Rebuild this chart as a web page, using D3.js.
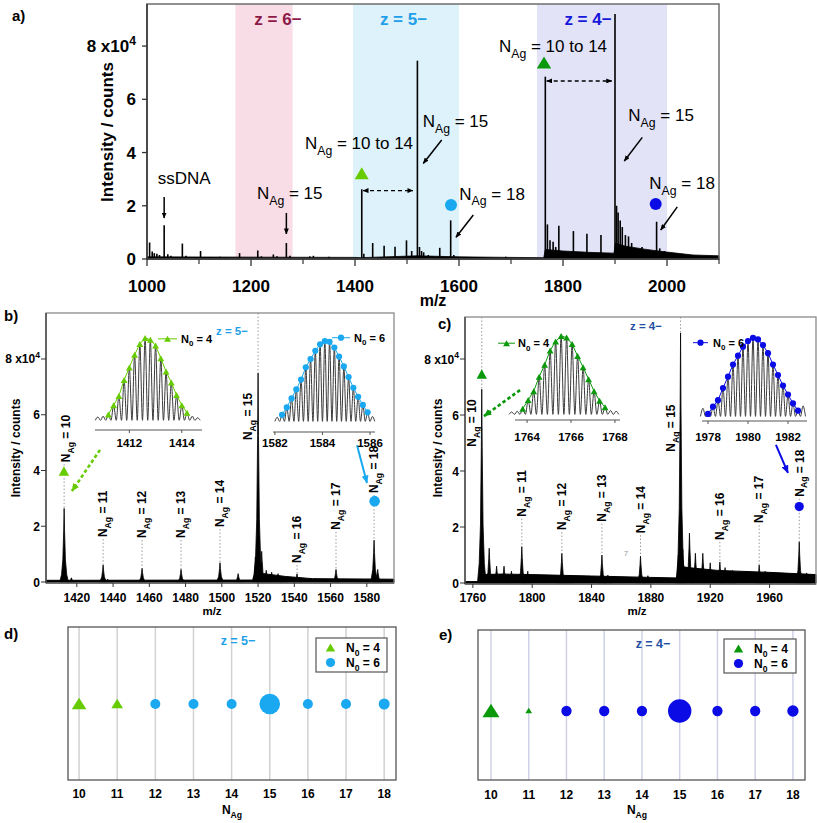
<!DOCTYPE html>
<html><head><meta charset="utf-8">
<script src="https://cdn.jsdelivr.net/npm/d3@7"></script>
<style>body{margin:0;background:#fff}svg{display:block}</style>
</head><body>
<svg id="fig" width="817" height="823"></svg>
<script>
// ================= DATA =================
// intensities are in units of 1e4 counts
const zLabels = ["z = 6−", "z = 5−", "z = 4−"];
const zRanges = [[1170, 1280], [1396, 1600], [1750, 2000]];
const xTicksA = [1000, 1200, 1400, 1600, 1800, 2000];
const xMinorA = [1100, 1300, 1500, 1700, 1900, 2100];
const yTicks = [0, 2, 4, 6, 8];
const peaksA = [
  [1005,0.62],[1010,0.28],[1014,0.22],[1019,0.2],[1024,0.15],[1033,1.27],[1040,0.18],[1046,0.12],
  [1068,0.58],[1075,0.12],[1103,0.3],[1140,0.08],[1178,0.22],[1213,0.32],[1220,0.1],[1243,0.17],
  [1250,0.1],[1268,0.6],[1275,0.12],[1313,0.1],[1320,0.12],[1350,0.08],[1413,2.62],[1417,0.2],
  [1434,0.6],[1456,0.5],[1477,0.46],[1499,0.7],[1509,0.3],[1520,7.45],[1524,0.45],[1528,0.3],
  [1532,0.25],[1541,0.15],[1563,0.42],[1584,1.45],[1590,0.15],[1690,0.08],[1766,6.85],[1770,1.3],
  [1775,0.7],[1781,0.65],[1786,0.45],[1792,1.25],[1820,1.05],[1846,0.95],[1873,0.9],[1900,9.2],
  [1903,2.0],[1906,1.75],[1910,1.45],[1914,1.2],[1920,0.9],[1926,0.85],[1932,0.6],[1952,0.45],
  [1980,1.4],[1986,0.4],[1995,0.3]
];
const baselineA = [[1000,0.08],[1400,0.06],[1412,0.05],[1520,0.12],[1600,0.08],[1700,0.06],[1763,0.05],
  [1766,0.36],[1800,0.3],[1850,0.25],[1898,0.22],[1901,0.6],[1920,0.48],[1960,0.36],[2000,0.26],[2050,0.15],[2100,0.12]];

const nAg = [10, 11, 12, 13, 14, 15, 16, 17, 18];

// panel b (z = 5-)
const mzB = [1413, 1434.5, 1456, 1477.5, 1499, 1520, 1541.5, 1563, 1584];
const hB = [2.64, 0.61, 0.49, 0.45, 0.69, 7.5, 0.29, 0.45, 1.5];
const minorB = [[1417,0.15],[1437,0.1],[1509,0.3],[1518.5,0.9],[1522,1.1],[1524.5,0.42],[1527.5,0.35],
  [1531,0.3],[1534,0.2],[1586,0.45]];
const baselineB = [[1403,0.06],[1517,0.07],[1523,0.3],[1535,0.2],[1550,0.12],[1595,0.1]];
const xTicksB = [1420, 1440, 1460, 1480, 1500, 1520, 1540, 1560, 1580];
const labelLevelB = [4.3, 1.61, 1.58, 1.58, 1.97, 5.09, 0.68, 1.87, 3.19];

// panel c (z = 4-)
const mzC = [1766, 1793, 1820, 1847, 1873, 1900, 1926.5, 1953, 1980];
const hC = [6.92, 1.3, 1.06, 1.0, 0.96, 8.93, 0.75, 0.64, 1.47];
const minorC = [[1771,1.24],[1776,0.6],[1781,0.6],[1786,0.42],[1797,0.42],[1825,0.28],[1851,0.28],[1878,0.26],
  [1898.5,1.0],[1901.5,1.2],[1906,1.78],[1910,1.06],[1915,1.06],[1920,0.72],[1930,0.55],[1935,0.45],
  [1957,0.42],[1985,0.36]];
const baselineC = [[1754.7,0.05],[1764,0.05],[1765.5,0.3],[1780,0.32],[1800,0.3],[1840,0.25],[1880,0.2],
  [1898,0.18],[1900,0.6],[1905,0.55],[1925,0.45],[1960,0.38],[1991.3,0.3]];
const xTicksC = [1760, 1800, 1840, 1880, 1920, 1960];
const labelLevelC = [4.87, 2.37, 1.89, 2.19, 1.78, 4.69, 1.54, 2.14, 3.08];

// isotope envelopes (relative intensity)
const isoB4 = [[1411.2,0.09],[1411.4,0.20],[1411.6,0.31],[1411.8,0.50],[1412.0,0.65],[1412.2,0.80],[1412.4,0.93],
  [1412.6,1.0],[1412.8,0.98],[1413.0,0.91],[1413.2,0.76],[1413.4,0.60],[1413.6,0.47],[1413.8,0.32],[1414.0,0.20],[1414.2,0.11]];
const tailB4 = [[1410.8,0.06],[1411.0,0.07],[1414.4,0.07],[1414.6,0.05]];
const isoB6 = [[1582.3,0.10],[1582.5,0.19],[1582.7,0.30],[1582.9,0.41],[1583.1,0.53],[1583.3,0.68],[1583.5,0.78],
  [1583.7,0.88],[1583.9,0.96],[1584.1,1.0],[1584.3,0.99],[1584.5,0.92],[1584.7,0.81],[1584.9,0.69],[1585.1,0.56],
  [1585.3,0.43],[1585.5,0.32],[1585.7,0.22],[1585.9,0.13]];
const tailB6 = [[1582.1,0.07],[1586.1,0.08]];
const isoC4 = [[1763.8,0.09],[1764.05,0.20],[1764.3,0.31],[1764.55,0.49],[1764.8,0.64],[1765.05,0.82],[1765.3,0.93],
  [1765.55,1.0],[1765.8,0.98],[1766.05,0.90],[1766.3,0.75],[1766.55,0.61],[1766.8,0.46],[1767.05,0.31],[1767.3,0.19],[1767.55,0.11]];
const tailC4 = [[1763.3,0.05],[1763.55,0.06],[1767.8,0.07],[1768.05,0.06]];
const isoC6 = [[1978.0,0.05],[1978.25,0.14],[1978.5,0.22],[1978.75,0.37],[1979.0,0.51],[1979.25,0.66],[1979.5,0.77],
  [1979.75,0.88],[1980.0,0.95],[1980.25,0.99],[1980.5,0.97],[1980.75,0.90],[1981.0,0.80],[1981.25,0.66],[1981.5,0.53],
  [1981.75,0.40],[1982.0,0.29],[1982.25,0.18],[1982.5,0.09]];
const tailC6 = [[1977.75,0.12],[1982.75,0.15]];

// panels d / e : relative abundance (marker size) and species
const speciesD = ["N4","N4","N6","N6","N6","N6","N6","N6","N6"];
const sizeD = [2.13, 1.35, 1.0, 1.0, 1.0, 4.24, 1.0, 1.0, 1.21];
const speciesE = ["N4","N4","N6","N6","N6","N6","N6","N6","N6"];
const sizeE = [2.89, 0.46, 1.06, 1.06, 1.06, 5.48, 1.06, 1.06, 1.28];

// ================= STYLE =================
const FONT = "'Liberation Sans', Arial, Helvetica, sans-serif";
const C = {
  lgreen: "#66cc00", dgreen: "#0a990a", lblue: "#1aa8f0", blue: "#0b0be6",
  z6: "#8c1a46", z5: "#1e9fe8", z4a: "#1818d8", z4c: "#2350a2",
  shade: ["#f8dde6", "#ddf2fb", "#e3e3f8"], frame: "#6e6e6e", axis: "#333"
};

const svg = d3.select("#fig");
const defs = svg.append("defs");
function arrowMarker(id, color, w, h) {
  defs.append("marker").attr("id", id).attr("viewBox", `0 0 ${w} ${h}`)
    .attr("refX", w - 0.5).attr("refY", h / 2).attr("markerWidth", w).attr("markerHeight", h)
    .attr("markerUnits", "userSpaceOnUse").attr("orient", "auto-start-reverse")
    .append("path").attr("d", `M0,0L${w},${h / 2}L0,${h}Z`).attr("fill", color);
}
arrowMarker("ahKs", "#000", 6, 5);
arrowMarker("ahLG", C.lgreen, 8, 7);
arrowMarker("ahDG", C.dgreen, 8, 7);
arrowMarker("ahLB", C.lblue, 8, 7);
arrowMarker("ahB", C.blue, 8, 7);

function rich(g, parts, o) {
  const s = o.size;
  const t = g.append("text").attr("font-family", FONT).attr("font-size", s)
    .attr("font-weight", o.weight || "normal").attr("fill", o.fill || "#000")
    .attr("text-anchor", o.anchor || "start");
  if (o.rotate) t.attr("transform", `translate(${o.x},${o.y}) rotate(${o.rotate})`);
  else t.attr("x", o.x).attr("y", o.y);
  let shift = 0;
  parts.forEach(p => {
    const sp = t.append("tspan").text(p.t);
    const target = p.sub ? s * 0.32 : p.sup ? -s * 0.42 : 0;
    if (target !== shift) { sp.attr("dy", target - shift); shift = target; }
    if (p.sub || p.sup) sp.attr("font-size", s * 0.72);
  });
  return t;
}
const nagParts = v => [{t: "N"}, {t: "Ag", sub: true}, {t: " = " + v}];
const n0Parts = v => [{t: "N"}, {t: "0", sub: true}, {t: " = " + v}];
const triPath = (cx, cy, hw, h) => `M${cx},${cy - h / 2}L${cx + hw},${cy + h / 2}L${cx - hw},${cy + h / 2}Z`;
function arrow(g, x1, y1, x2, y2, color, w, marker, dash, both) {
  const l = g.append("line").attr("x1", x1).attr("y1", y1).attr("x2", x2).attr("y2", y2)
    .attr("stroke", color).attr("stroke-width", w).attr("marker-end", `url(#${marker})`);
  if (dash) l.attr("stroke-dasharray", dash);
  if (both) l.attr("marker-start", `url(#${marker})`);
  return l;
}
function plain(g, txt, o) {
  return g.append("text").attr("x", o.x).attr("y", o.y).attr("font-family", FONT)
    .attr("font-size", o.size).attr("font-weight", o.weight || "normal").attr("fill", o.fill || "#000")
    .attr("text-anchor", o.anchor || "start").text(txt);
}

// ================= PANEL A =================
(function () {
  const g = svg.append("g");
  const x = d3.scaleLinear([1000, 2100], [147, 719]);
  const y = d3.scaleLinear([0, 9.58], [259, 4]);
  zRanges.forEach((r, i) => g.append("rect").attr("x", x(r[0])).attr("y", y(9.58))
    .attr("width", x(r[1]) - x(r[0])).attr("height", y(0) - y(9.58)).attr("fill", C.shade[i]));
  g.append("path").datum(baselineA).attr("fill", "#000").attr("stroke", "#000").attr("stroke-width", 0.8)
    .attr("d", d3.area().x(d => x(d[0])).y0(y(0)).y1(d => y(d[1])));
  g.selectAll(".pk").data(peaksA).join("line").attr("x1", d => x(d[0])).attr("x2", d => x(d[0]))
    .attr("y1", y(0)).attr("y2", d => y(d[1])).attr("stroke", "#000").attr("stroke-width", 1.6);
  g.append("rect").attr("x", 147).attr("y", 4).attr("width", 572).attr("height", 255)
    .attr("fill", "none").attr("stroke", C.frame).attr("stroke-width", 1.5);
  g.append("line").attr("x1", 147).attr("x2", 719).attr("y1", 259).attr("y2", 259).attr("stroke", C.axis).attr("stroke-width", 1.5);
  g.append("line").attr("x1", 147).attr("x2", 147).attr("y1", 4).attr("y2", 259).attr("stroke", C.axis).attr("stroke-width", 1.5);
  xTicksA.forEach(v => {
    g.append("line").attr("x1", x(v)).attr("x2", x(v)).attr("y1", 259).attr("y2", 266).attr("stroke", C.axis).attr("stroke-width", 1.3);
    plain(g, v, {x: x(v), y: 292, size: 17, weight: "bold", anchor: "middle"});
  });
  xMinorA.forEach(v => g.append("line").attr("x1", x(v)).attr("x2", x(v)).attr("y1", 259).attr("y2", 264)
    .attr("stroke", C.axis).attr("stroke-width", 1.2));
  yTicks.forEach(v => {
    g.append("line").attr("x1", 142).attr("x2", 147).attr("y1", y(v)).attr("y2", y(v)).attr("stroke", C.axis).attr("stroke-width", 1.3);
    const parts = v === 8 ? [{t: "8 x10"}, {t: "4", sup: true}] : [{t: String(v)}];
    rich(g, parts, {x: 136, y: y(v) + 6, size: 17, weight: "bold", anchor: "end"});
  });
  plain(g, "m/z", {x: 433, y: 306, size: 16, weight: "bold", anchor: "middle"});
  g.append("text").attr("transform", "translate(113,132) rotate(-90)").attr("text-anchor", "middle")
    .attr("font-family", FONT).attr("font-size", 17).attr("font-weight", "bold").text("Intensity / counts");
  plain(g, "a)", {x: 12, y: 21, size: 15, weight: "bold"});
  const zc = [1251.9, 1493.3, 1848.1], zcol = [C.z6, C.z5, C.z4a];
  zLabels.forEach((t, i) => plain(g, t, {x: x(zc[i]), y: y(8.79), size: 17, weight: "bold", anchor: "middle", fill: zcol[i]}));
  plain(g, "ssDNA", {x: x(1020.6), y: y(2.83), size: 17});
  arrow(g, x(1033), y(2.33), x(1033), y(1.54), "#000", 1.5, "ahKs");
  rich(g, nagParts(15), {x: x(1211.5), y: y(2.25), size: 17});
  arrow(g, x(1268), y(1.73), x(1268), y(0.94), "#000", 1.5, "ahKs");
  rich(g, nagParts("10 to 14"), {x: x(1303.8), y: y(4.12), size: 17});
  g.append("path").attr("d", triPath(x(1412.9), y(3.22), 7, 12)).attr("fill", C.lgreen);
  arrow(g, x(1415.4), y(2.57), x(1511.5), y(2.57), "#000", 1.4, "ahKs", "4,3", true);
  rich(g, nagParts(15), {x: x(1530.2), y: y(4.95), size: 17});
  arrow(g, x(1566.7), y(4.47), x(1531.3), y(3.59), "#000", 1.5, "ahKs");
  g.append("circle").attr("cx", x(1584.6)).attr("cy", y(2.03)).attr("r", 6).attr("fill", C.lblue);
  rich(g, nagParts(18), {x: x(1600.6), y: y(2.22), size: 17});
  arrow(g, x(1627.5), y(1.65), x(1594.2), y(0.815), "#000", 1.5, "ahKs");
  rich(g, nagParts("10 to 14"), {x: x(1676.9), y: y(7.76), size: 17});
  g.append("path").attr("d", triPath(x(1763.5), y(7.38), 7.2, 12)).attr("fill", C.dgreen);
  arrow(g, x(1768.7), y(6.69), x(1893.7), y(6.69), "#000", 1.4, "ahKs", "4,3", true);
  rich(g, nagParts(15), {x: x(1925.6), y: y(5.18), size: 17});
  arrow(g, x(1952.5), y(4.57), x(1917.9), y(3.68), "#000", 1.5, "ahKs");
  g.append("circle").attr("cx", x(1978.3)).attr("cy", y(2.07)).attr("r", 6).attr("fill", C.blue);
  rich(g, nagParts(18), {x: x(1965.96), y: y(2.62), size: 17});
  arrow(g, x(2019.8), y(1.96), x(1987.9), y(1.09), "#000", 1.5, "ahKs");
})();

// ================= PANELS B / C =================
const PROF_T = [-1, -0.6, -0.3, -0.1, 0, 0.1, 0.3, 0.6, 1];
const PROF_H = [0, 0.1, 0.3, 0.7, 1, 0.7, 0.3, 0.1, 0];

function drawInset(g, o) {
  const x = d3.scaleLinear(o.xDomain, o.xRange);
  const y = d3.scaleLinear([0, 1], o.yRange);
  const tr = o.iso.concat(o.tail).sort((a, b) => a[0] - b[0]);
  const half = (o.iso[1][0] - o.iso[0][0]) / 2;
  const pts = [];
  tr.forEach(d => { pts.push([d[0] - half, 0.02]); pts.push([d[0], d[1]]); });
  pts.push([tr[tr.length - 1][0] + half, 0.02]);
  g.append("path").attr("d", d3.line().x(d => x(d[0])).y(d => y(d[1])).curve(d3.curveMonotoneX)(pts))
    .attr("fill", "none").attr("stroke", "#3a3a3a").attr("stroke-width", 1);
  g.append("path").attr("d", d3.line().x(d => x(d[0])).y(d => y(d[1]))(o.iso))
    .attr("fill", "none").attr("stroke", o.color).attr("stroke-width", 1);
  const mark = (cx, cy) => o.shape === "tri"
    ? g.append("path").attr("d", triPath(cx, cy, 3.4, 6)).attr("fill", o.color)
    : g.append("circle").attr("cx", cx).attr("cy", cy).attr("r", 3.1).attr("fill", o.color);
  o.iso.forEach(d => mark(x(d[0]), y(d[1])));
  g.append("line").attr("x1", o.xRange[0]).attr("x2", o.xRange[1]).attr("y1", o.axisY).attr("y2", o.axisY)
    .attr("stroke", "#555").attr("stroke-width", 1);
  o.ticks.forEach(v => {
    g.append("line").attr("x1", x(v)).attr("x2", x(v)).attr("y1", o.axisY).attr("y2", o.axisY + 3).attr("stroke", "#555");
    plain(g, v, {x: x(v), y: o.labelY, size: 11.5, weight: "bold", anchor: "middle"});
  });
  const L = o.legend;
  g.append("line").attr("x1", x(L[0])).attr("x2", x(L[1])).attr("y1", y(L[2])).attr("y2", y(L[2]))
    .attr("stroke", o.color).attr("stroke-width", 1);
  mark((x(L[0]) + x(L[1])) / 2, y(L[2]));
  rich(g, n0Parts(o.n0), {x: x(L[3]), y: y(L[2]) + 4, size: 11, weight: "bold"});
}

function drawSpec(o) {
  const g = svg.append("g");
  const x = d3.scaleLinear(o.xDomain, o.xRange);
  const y = d3.scaleLinear(o.yDomain, [o.y0, o.top]);
  const left = o.xRange[0], right = o.xRange[1];
  const gd = g.append("g").attr("stroke", "#9a9a9a").attr("stroke-width", 1).attr("stroke-dasharray", "1.5,2");
  o.mz.forEach((m, i) => {
    let yTop = y(o.labelLevel[i]) + 2;
    if (o.guideFull[i]) yTop = o.top;
    gd.append("line").attr("x1", x(m)).attr("x2", x(m)).attr("y1", yTop).attr("y2", y(o.h[i]));
  });
  g.append("path").datum(o.baseline).attr("fill", "#000").attr("stroke", "#000").attr("stroke-width", 1)
    .attr("d", d3.area().x(d => x(d[0])).y0(y(0)).y1(d => y(d[1])));
  const allPk = o.mz.map((m, i) => [m, o.h[i]]).concat(o.minor);
  const pArea = d3.area().x(d => x(d[0])).y0(y(0)).y1(d => y(d[1]));
  allPk.forEach(p => {
    const pts = PROF_T.map((t, k) => [p[0] + t * o.hw, p[1] * PROF_H[k]]);
    g.append("path").attr("d", pArea(pts)).attr("fill", "#000").attr("stroke", "#000").attr("stroke-width", 0.8);
  });
  g.append("rect").attr("x", left).attr("y", o.top).attr("width", right - left).attr("height", o.y0 + 1 - o.top)
    .attr("fill", "none").attr("stroke", "#8a8a8a").attr("stroke-width", 1.3);
  g.append("line").attr("x1", left).attr("x2", right).attr("y1", o.y0 + 1).attr("y2", o.y0 + 1).attr("stroke", C.axis).attr("stroke-width", 1.2);
  g.append("line").attr("x1", left).attr("x2", left).attr("y1", o.top).attr("y2", o.y0 + 1).attr("stroke", C.axis).attr("stroke-width", 1.2);
  o.xTicks.forEach(v => {
    g.append("line").attr("x1", x(v)).attr("x2", x(v)).attr("y1", o.y0 + 1).attr("y2", o.y0 + 5).attr("stroke", C.axis);
    plain(g, v, {x: x(v), y: 602, size: 12, weight: "bold", anchor: "middle"});
  });
  yTicks.forEach(v => {
    g.append("line").attr("x1", left - 5).attr("x2", left).attr("y1", y(v)).attr("y2", y(v)).attr("stroke", C.axis);
    const parts = v === 8 ? [{t: "8 x10"}, {t: "4", sup: true}] : [{t: String(v)}];
    rich(g, parts, {x: left - 6, y: y(v) + 4.5, size: 12, weight: "bold", anchor: "end"});
  });
  plain(g, "m/z", {x: o.mzTitleX, y: 615, size: 11.5, weight: "bold", anchor: "middle"});
  g.append("text").attr("transform", `translate(${o.yTitleX},448) rotate(-90)`).attr("text-anchor", "middle")
    .attr("font-family", FONT).attr("font-size", 12).attr("font-weight", "bold").text("Intensity / counts");
  plain(g, o.panel, {x: o.panelXY[0], y: o.panelXY[1], size: 15, weight: "bold"});
  plain(g, o.zText, {x: x(o.zPos[0]), y: y(o.zPos[1]), size: 11.5, weight: "bold", anchor: "middle", fill: o.zColor});
  o.mz.forEach((m, i) => {
    rich(g, nagParts(nAg[i]), {x: x(m) + o.labelDx[i] + 4.3, y: y(o.labelLevel[i]), size: 12, weight: "bold", rotate: -90});
  });
  const T = o.tri, Ci = o.circ;
  g.append("path").attr("d", triPath(x(T[0]), y(T[1]), 5.2, 9.5)).attr("fill", o.triColor);
  g.append("circle").attr("cx", x(Ci[0])).attr("cy", y(Ci[1])).attr("r", o.circR).attr("fill", o.circColor);
  const ga = o.garrow, ba = o.barrow;
  arrow(g, x(ga[0]), y(ga[1]), x(ga[2]), y(ga[3]), o.triColor, 2.6, o.gMarker, "3.5,2.5");
  arrow(g, x(ba[0]), y(ba[1]), x(ba[2]), y(ba[3]), o.circColor, 2, o.bMarker);
  o.insets.forEach(ins => drawInset(g, ins));
  return {g, x, y};
}

drawSpec({
  xDomain: [1403, 1595], xRange: [46, 394], yDomain: [0, 9.65], y0: 582, top: 313,
  mz: mzB, h: hB, minor: minorB, baseline: baselineB, hw: 2.4, xTicks: xTicksB,
  labelLevel: labelLevelB, labelDx: [1.7, 0, 0, 0, 0, -10.3, 0, 0, 0],
  guideFull: [false, false, false, false, false, true, false, false, false],
  mzTitleX: 212, yTitleX: 19.5, panel: "b)", panelXY: [4, 321],
  zText: "z = 5−", zPos: [1505.6, 8.86], zColor: C.z5,
  tri: [1412.9, 3.98], circ: [1584.3, 2.9], circR: 5.3, triColor: C.lgreen, circColor: C.lblue,
  garrow: [1432.8, 4.74, 1417.3, 3.26], barrow: [1574.6, 4.91, 1580.1, 3.55], gMarker: "ahLG", bMarker: "ahLB",
  insets: [
    {xDomain: [1410.69, 1414.77], xRange: [95, 202], yRange: [422, 338], axisY: 430, labelY: 447,
     iso: isoB4, tail: tailB4, color: C.lgreen, shape: "tri", ticks: [1412, 1414], n0: 4,
     legend: [1413.09, 1413.82, 0.99, 1413.97]},
    {xDomain: [1581.92, 1586.21], xRange: [273, 375], yRange: [423, 341], axisY: 432, labelY: 447,
     iso: isoB6, tail: tailB6, color: C.lblue, shape: "circ", ticks: [1582, 1584, 1586], n0: 6,
     legend: [1584.40, 1585.16, 1.04, 1585.33]}
  ]
});
const specC = drawSpec({
  xDomain: [1754.7, 1991.3], xRange: [465, 816], yDomain: [0, 9.5], y0: 583, top: 317,
  mz: mzC, h: hC, minor: minorC, baseline: baselineC, hw: 2.9, xTicks: xTicksC,
  labelLevel: labelLevelC, labelDx: [-10, 0, 0, 0, 0, -10, 0, 0, 0],
  guideFull: [true, false, false, false, false, true, false, false, false],
  mzTitleX: 637, yTitleX: 441.5, panel: "c)", panelXY: [438, 329],
  zText: "z = 4−", zPos: [1876.7, 9.04], zColor: C.z4c,
  tri: [1766, 7.46], circ: [1980, 2.73], circR: 4.6, triColor: C.dgreen, circColor: C.blue,
  garrow: [1791.8, 6.89, 1767.5, 5.96], barrow: [1964.3, 4.93, 1972.4, 3.93], gMarker: "ahDG", bMarker: "ahB",
  insets: [
    {xDomain: [1763.45, 1768.23], xRange: [515, 620], yRange: [416, 336], axisY: 420, labelY: 441,
     iso: isoC4, tail: tailC4, color: C.dgreen, shape: "tri", ticks: [1764, 1766, 1768], n0: 4,
     legend: [1762.68, 1763.45, 0.91, 1763.59]},
    {xDomain: [1977.7, 1982.95], xRange: [702, 807], yRange: [418, 337], axisY: 421, labelY: 441,
     iso: isoC6, tail: tailC6, color: C.blue, shape: "circ", ticks: [1978, 1980, 1982], n0: 6,
     legend: [1977.25, 1978.0, 0.93, 1978.25]}
  ]
});
plain(specC.g, "7", {x: specC.x(1863.2), y: specC.y(0.96), size: 8, fill: "#999", anchor: "middle"});

// ================= PANELS D / E =================
function drawDot(o) {
  const g = svg.append("g");
  const x = d3.scaleLinear(o.xDomain, o.xRange);
  const r = d3.scaleSqrt([0, 1], [0, 5]);
  const [l, rr] = o.xRange;
  nAg.forEach(n => g.append("line").attr("x1", x(n)).attr("x2", x(n)).attr("y1", o.top).attr("y2", o.bottom)
    .attr("stroke", o.grid).attr("stroke-width", 1.5));
  g.append("rect").attr("x", l).attr("y", o.top).attr("width", rr - l).attr("height", o.bottom - o.top)
    .attr("fill", "none").attr("stroke", "#555").attr("stroke-width", 1.3);
  nAg.forEach((n, i) => {
    const rad = r(o.size[i]);
    if (o.species[i] === "N4")
      g.append("path").attr("d", triPath(x(n), o.my - 0.5, rad, rad * 1.6)).attr("fill", o.c4);
    else
      g.append("circle").attr("cx", x(n)).attr("cy", o.my).attr("r", rad).attr("fill", o.c6);
    plain(g, n, {x: x(n), y: o.tickY, size: 12, weight: "bold", anchor: "middle"});
  });
  rich(g, [{t: "N"}, {t: "Ag", sub: true}], {x: o.titleX, y: 814, size: 12, weight: "bold", anchor: "middle"});
  plain(g, o.panel, {x: o.panelXY[0], y: o.panelXY[1], size: 15, weight: "bold"});
  plain(g, o.zText, {x: o.zXY[0], y: o.zXY[1], size: 12.5, weight: "bold", anchor: "middle", fill: o.zColor});
  const L = o.legend;
  g.append("rect").attr("x", L[0]).attr("y", L[1]).attr("width", L[2] - L[0]).attr("height", L[3] - L[1])
    .attr("fill", "#fff").attr("stroke", "#555").attr("stroke-width", 1.2);
  g.append("path").attr("d", triPath(L[0] + 14.5, L[1] + 9.5, 4.7, 8)).attr("fill", o.c4);
  g.append("circle").attr("cx", L[0] + 14.5).attr("cy", L[1] + 24.5).attr("r", 4.6).attr("fill", o.c6);
  rich(g, n0Parts(4), {x: L[0] + 30, y: L[1] + 14, size: 12, weight: "bold"});
  rich(g, n0Parts(6), {x: L[0] + 30, y: L[1] + 29, size: 12, weight: "bold"});
}
drawDot({xDomain: [9.71, 18.31], xRange: [68, 396], top: 627, bottom: 780, my: 704, tickY: 798,
  size: sizeD, species: speciesD, c4: C.lgreen, c6: C.lblue, grid: "#d2d2d2", titleX: 232,
  panel: "d)", panelXY: [4, 639], zText: "z = 5−", zXY: [238, 645], zColor: C.z5, legend: [316, 638, 387, 672]});
drawDot({xDomain: [9.656, 18.32], xRange: [478, 805], top: 630, bottom: 780, my: 711, tickY: 799,
  size: sizeE, species: speciesE, c4: C.dgreen, c6: C.blue, grid: "#cfd1e6", titleX: 637,
  panel: "e)", panelXY: [439, 640], zText: "z = 4−", zXY: [653, 648], zColor: C.z4c, legend: [724, 639, 796, 673]});
</script>
</body></html>
